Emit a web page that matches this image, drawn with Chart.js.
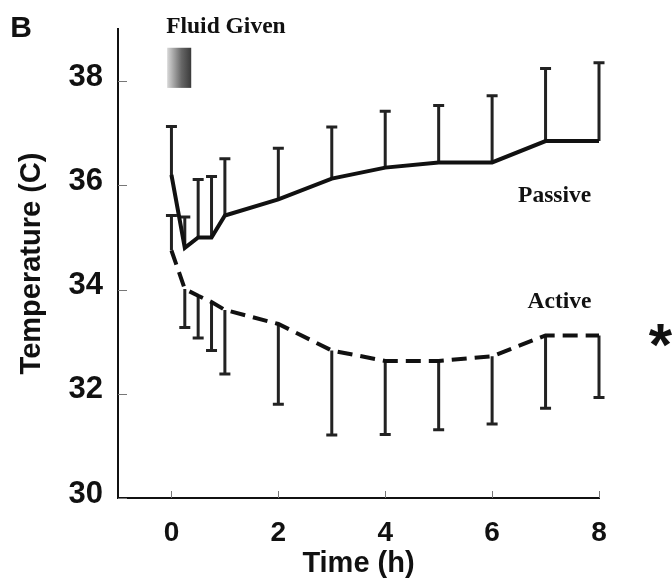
<!DOCTYPE html>
<html lang="en">
<head>
<meta charset="UTF-8">
<title>Temperature: Passive vs Active</title>
<script src="https://cdn.jsdelivr.net/npm/chart.js"></script>
<style>
    html, body {
        margin: 0;
        padding: 0;
        background: #fff;
    }
    canvas {
        display: block;
    }
</style>
</head>
<body>
<canvas id="tempChart" width="672" height="581"></canvas>
<script>
// time points (h)
const times = [0, 0.25, 0.5, 0.75, 1, 2, 3, 4, 5, 6, 7, 8];

// passive rewarming: mean and top of the error bar (C)
const passiveMean   = [36.20, 34.80, 35.00, 35.00, 35.42, 35.73, 36.13, 36.34, 36.44, 36.44, 36.85, 36.85];
const passiveErrEnd = [37.13, 35.39, 36.11, 36.17, 36.51, 36.71, 37.12, 37.42, 37.53, 37.72, 38.24, 38.35];

// active rewarming: mean and end of the error bar (C)
const activeMean   = [34.75, 34.01, 33.88, 33.76, 33.61, 33.34, 32.83, 32.63, 32.63, 32.72, 33.12, 33.12];
const activeErrEnd = [35.42, 33.27, 33.07, 32.83, 32.38, 31.80, 31.21, 31.22, 31.31, 31.42, 31.72, 31.93];

const xTicks = [0, 2, 4, 6, 8];
const yTicks = [30, 32, 34, 36, 38];

// period during which fluid was given (h)
const fluidWindow = [-0.08, 0.37];

const SANS = "'Liberation Sans', Arial, sans-serif";
const SERIF = "'Liberation Serif', 'Times New Roman', serif";

const errorBars = {
    id: 'errorBars',
    beforeDatasetsDraw(chart) {
        const {ctx, scales: {x, y}} = chart;
        ctx.save();
        ctx.strokeStyle = '#222';
        ctx.lineWidth = 3;
        [[passiveMean, passiveErrEnd], [activeMean, activeErrEnd]].forEach(([mean, end]) => {
            times.forEach((t, i) => {
                const px = x.getPixelForValue(t);
                const y0 = y.getPixelForValue(mean[i]);
                const y1 = y.getPixelForValue(end[i]);
                ctx.beginPath();
                ctx.moveTo(px, y0);
                ctx.lineTo(px, y1);
                ctx.moveTo(px - 5.5, y1);
                ctx.lineTo(px + 5.5, y1);
                ctx.stroke();
            });
        });
        ctx.restore();
    }
};

// small tick marks on the inside of the axes, plus the text notes
const extras = {
    id: 'extras',
    afterDraw(chart) {
        const {ctx, chartArea: area, scales: {x, y}} = chart;
        ctx.save();

        ctx.strokeStyle = '#777';
        ctx.lineWidth = 1;
        ctx.beginPath();
        x.ticks.forEach(t => {
            const px = Math.round(x.getPixelForValue(t.value)) + 0.5;
            ctx.moveTo(px, area.bottom);
            ctx.lineTo(px, area.bottom - 7);
        });
        y.ticks.forEach(t => {
            const py = Math.round(y.getPixelForValue(t.value)) + 0.5;
            ctx.moveTo(area.left, py);
            ctx.lineTo(area.left + 9, py);
        });
        ctx.stroke();

        // fluid given box
        const bx0 = x.getPixelForValue(fluidWindow[0]);
        const bx1 = x.getPixelForValue(fluidWindow[1]);
        const by0 = y.getPixelForValue(38.64);
        const by1 = y.getPixelForValue(37.87);
        const grad = ctx.createLinearGradient(bx0, 0, bx1, 0);
        grad.addColorStop(0, '#d8d8d8');
        grad.addColorStop(0.6, '#666');
        grad.addColorStop(1, '#3a3a3a');
        ctx.fillStyle = grad;
        ctx.fillRect(bx0, by0, bx1 - bx0, by1 - by0);

        ctx.fillStyle = '#111';
        ctx.textBaseline = 'alphabetic';

        ctx.font = 'bold 23.5px ' + SERIF;
        ctx.textAlign = 'left';
        ctx.fillText('Fluid Given', bx0 - 1, 33);

        ctx.textAlign = 'center';
        ctx.fillText('Passive', x.getPixelForValue(7.17), y.getPixelForValue(35.68));
        ctx.fillText('Active', x.getPixelForValue(7.26), y.getPixelForValue(33.65));

        ctx.font = 'bold 30px ' + SANS;
        ctx.fillText('B', 21, 37);

        ctx.font = 'bold 60px ' + SANS;
        ctx.fillText('*', x.getPixelForValue(9.15), y.getPixelForValue(33.05) + 26);

        ctx.restore();
    }
};

const ctx = document.getElementById('tempChart').getContext('2d');

new Chart(ctx, {
    type: 'line',
    data: {
        datasets: [{
            label: 'Passive',
            data: times.map((t, i) => ({x: t, y: passiveMean[i]})),
            borderColor: '#111',
            borderWidth: 4,
            pointRadius: 0,
            tension: 0,
            fill: false
        }, {
            label: 'Active',
            data: times.map((t, i) => ({x: t, y: activeMean[i]})),
            borderColor: '#111',
            borderWidth: 4,
            borderDash: [15, 8],
            pointRadius: 0,
            tension: 0,
            fill: false
        }]
    },
    options: {
        responsive: false,
        animation: false,
        events: [],
        layout: {
            padding: {left: 0, right: 73, top: 29, bottom: 0}
        },
        plugins: {
            legend: {display: false},
            tooltip: {enabled: false}
        },
        scales: {
            x: {
                type: 'linear',
                min: -1,
                max: 8,
                afterBuildTicks: scale => {
                    scale.ticks = xTicks.map(v => ({value: v}));
                },
                afterFit: scale => {
                    scale.height = 83;
                },
                grid: {display: false},
                border: {display: true, color: '#111', width: 2},
                ticks: {
                    color: '#111',
                    padding: 10,
                    maxRotation: 0,
                    font: {family: SANS, size: 28, weight: 'bold'}
                },
                title: {
                    display: true,
                    text: 'Time (h)',
                    color: '#111',
                    padding: {top: 0, bottom: 0},
                    font: {family: SANS, size: 29, weight: 'bold'}
                }
            },
            y: {
                type: 'linear',
                min: 30,
                max: 39,
                afterBuildTicks: scale => {
                    scale.ticks = yTicks.map(v => ({value: v}));
                },
                afterFit: scale => {
                    scale.width = 118;
                },
                grid: {display: false},
                border: {display: true, color: '#111', width: 2},
                ticks: {
                    color: '#111',
                    padding: 7,
                    labelOffset: -4,
                    font: {family: SANS, size: 31, weight: 'bold'}
                },
                title: {
                    display: true,
                    text: 'Temperature (C)',
                    color: '#111',
                    padding: {top: 15, bottom: 0},
                    font: {family: SANS, size: 29, weight: 'bold'}
                }
            }
        }
    },
    plugins: [errorBars, extras]
});
</script>
</body>
</html>
